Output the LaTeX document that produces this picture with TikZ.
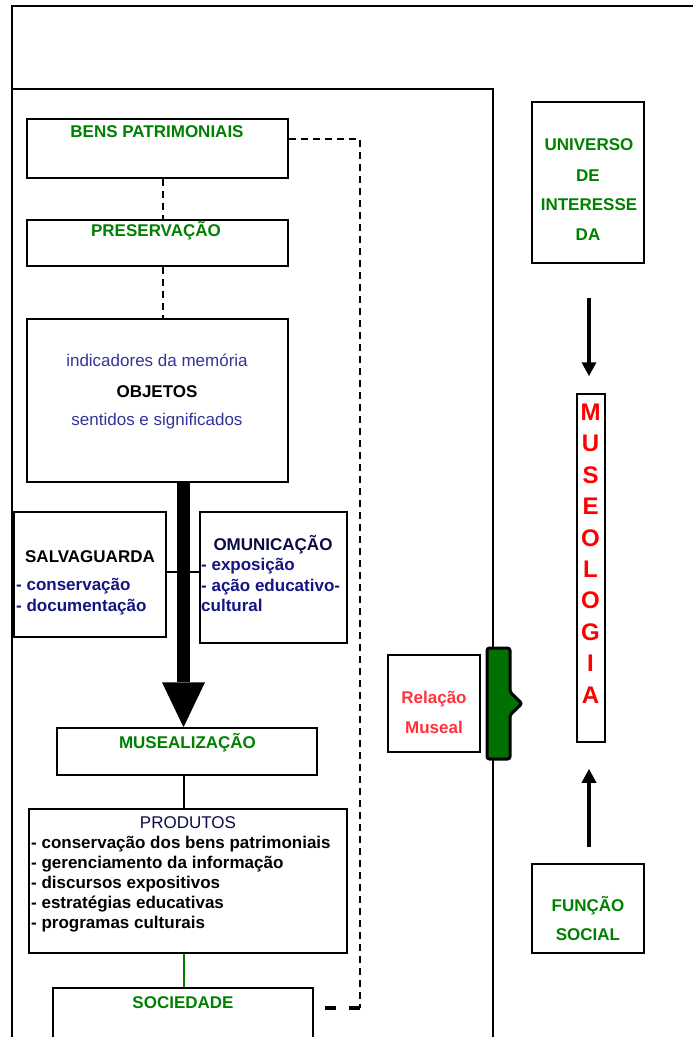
\documentclass[tikz,border=0pt]{standalone}
\usepackage{fontspec}
\setmainfont{Liberation Sans}
\usetikzlibrary{arrows.meta}

\definecolor{titlegreen}{RGB}{0,128,0}
\definecolor{itemblue}{RGB}{20,20,130}
\definecolor{softblue}{RGB}{51,51,153}
\definecolor{darknavy}{RGB}{10,10,70}
\definecolor{brightred}{RGB}{255,0,0}
\definecolor{softred}{RGB}{255,50,60}
\definecolor{bracketgreen}{RGB}{0,112,0}

\begin{document}
\begin{tikzpicture}[x=1pt,y=-1pt,
  box/.style={draw, line width=1.5pt, inner sep=0pt},
  txt/.style={inner sep=0pt, anchor=base, font=\fontsize{17}{20}\selectfont},
  btxt/.style={txt, font=\fontsize{17}{20}\selectfont\bfseries},
  ltxt/.style={btxt, anchor=base west},
  frame/.style={line width=1.8pt},
  dashline/.style={line width=2pt, dash pattern=on 7pt off 5pt},
  dashthick/.style={line width=3.4pt, dash pattern=on 11pt off 13pt},
  link/.style={line width=2pt},
  sidearrow/.style={line width=3.4pt, -{Triangle[width=14pt,length=14pt]}},
  bigarrow/.style={line width=13pt, -{Triangle[width=43pt,length=45pt,line width=0pt]}}
]
\useasboundingbox (0,0) rectangle (693,1037);

% outer and inner frames
\draw[frame] (12,1037) -- (12,6) -- (693,6);
\draw[frame] (12,89) -- (493,89) -- (493,1037);

% left column boxes
\node[box, minimum width=261pt, minimum height=59pt] (bens) at (157.5,148.5) {};
\node[box, minimum width=261pt, minimum height=46pt] (pres) at (157.5,243) {};
\node[box, minimum width=261pt, minimum height=163pt] (obj) at (157.5,400.5) {};
\node[box, minimum width=152pt, minimum height=125pt] (salv) at (90,574.5) {};
\node[box, minimum width=147pt, minimum height=131pt] (com) at (273.5,577.5) {};
\node[box, minimum width=260pt, minimum height=47pt] (mus) at (187,751.5) {};
\node[box, minimum width=318pt, minimum height=144pt] (prod) at (188,881) {};
\node[box, minimum width=260pt, minimum height=84pt] (soc) at (183,1030) {};

% right column boxes
\node[box, minimum width=112pt, minimum height=161pt] (univ) at (588,182.5) {};
\node[box, minimum width=28pt, minimum height=348pt] (museo) at (591,568) {};
\node[box, minimum width=92pt, minimum height=97pt] (rel) at (434,703.5) {};
\node[box, minimum width=112pt, minimum height=89pt] (func) at (588,908.5) {};

% texts of the left column
\node[btxt, text=titlegreen] (bensT) at (157,137) {BENS PATRIMONIAIS};
\node[btxt, text=titlegreen] (presT) at (156,236.5) {PRESERVAÇÃO};
\node[txt, text=softblue] (objA) at (157,366) {indicadores da memória};
\node[btxt, text=black] (objB) at (157,397) {OBJETOS};
\node[txt, text=softblue] (objC) at (157,425) {sentidos e significados};

\node[btxt, text=black] (salvT) at (90,562) {SALVAGUARDA};
\node[ltxt, text=itemblue] (salvA) at (16,590) {- conservação};
\node[ltxt, text=itemblue] (salvB) at (16,611) {- documentação};

\node[btxt, text=darknavy] (comT) at (273,550) {OMUNICAÇÃO};
\node[ltxt, text=itemblue] (comA) at (201,570) {- exposição};
\node[ltxt, text=itemblue] (comB) at (201,591) {- ação educativo-};
\node[ltxt, text=itemblue] (comC) at (201,611) {cultural};

\node[btxt, text=titlegreen] (musT) at (187.5,748) {MUSEALIZAÇÃO};

\node[txt, text=darknavy] (prodT) at (188,828) {PRODUTOS};
\node[ltxt, text=black] (prodA) at (31,848) {- conservação dos bens patrimoniais};
\node[ltxt, text=black] (prodB) at (31,868) {- gerenciamento da informação};
\node[ltxt, text=black] (prodC) at (31,888) {- discursos expositivos};
\node[ltxt, text=black] (prodD) at (31,908) {- estratégias educativas};
\node[ltxt, text=black] (prodE) at (31,928) {- programas culturais};

\node[btxt, text=titlegreen] (socT) at (183,1008) {SOCIEDADE};

% texts of the right column
\node[btxt, text=titlegreen] (univA) at (589,150) {UNIVERSO};
\node[btxt, text=titlegreen] (univB) at (588,181) {DE};
\node[btxt, text=titlegreen] (univC) at (589,210) {INTERESSE};
\node[btxt, text=titlegreen] (univD) at (588,240) {DA};

\foreach \l [count=\i] in {M,U,S,E,O,L,O,G,I,A}
  \node[inner sep=0pt, text=brightred, font=\fontsize{24}{28}\selectfont\bfseries] (ml\i) at (590.5,{412+31.44*(\i-1)}) {\l};

\node[btxt, text=softred] (relA) at (434,703) {Relação};
\node[btxt, text=softred] (relB) at (434,733) {Museal};

\node[btxt, text=titlegreen] (funcA) at (588,911) {FUNÇÃO};
\node[btxt, text=titlegreen] (funcB) at (588,940) {SOCIAL};

% connectors of the left column
\coordinate (ax) at (183.5,0);
\coordinate (dx) at (163,0);
\coordinate (sc) at (0,572);
\coordinate (lc) at (360,0);
\coordinate (rx) at (589,0);
\coordinate (bensOut) at ([yshift=9.5pt]bens.east);
\coordinate (socOut) at ([yshift=22pt]soc.east);

\draw[dashline] (dx |- bens.south) -- (dx |- pres.north);
\draw[dashline] (dx |- pres.south) -- (dx |- obj.north);
\draw[link] (salv.east |- sc) -- (com.west |- sc);
\draw[bigarrow] (ax |- obj.south) -- (ax |- mus.north);
\draw[link] (ax |- mus.south) -- (ax |- prod.north);
\draw[link, draw=titlegreen] (ax |- prod.south) -- (ax |- soc.north);
\draw[dashline] (bensOut) -| (lc |- socOut);
\draw[dashthick] (lc |- socOut) -- (socOut);

% connectors of the right column
\draw[sidearrow, shorten <=34pt, shorten >=17pt] (rx |- univ.south) -- (rx |- museo.north);
\draw[sidearrow, shorten <=16pt, shorten >=26pt] (rx |- func.north) -- (rx |- museo.south);

% bracket joining the relation to the inner frame
\draw[line width=3pt, fill=bracketgreen, rounded corners=2.5pt]
  (487,648) -- (510,648) -- (510,692) -- (522,703.5) -- (510,715)
  -- (510,759) -- (487,759) -- cycle;
\end{tikzpicture}
\end{document}
